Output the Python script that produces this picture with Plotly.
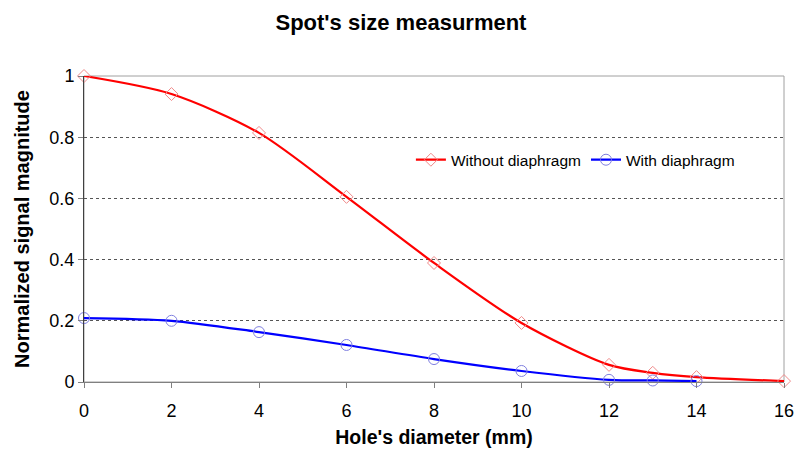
import plotly.graph_objects as go

x_without = [0, 2, 4, 6, 8, 10, 12, 13, 14, 16]
y_without = [1.0, 0.941, 0.814, 0.605, 0.389, 0.193, 0.056, 0.030, 0.016, 0.003]
x_with = [0, 2, 4, 6, 8, 10, 12, 13, 14]
y_with = [0.209, 0.200, 0.163, 0.121, 0.075, 0.036, 0.007, 0.005, 0.003]

FONT = "Liberation Sans, Arial, sans-serif"

fig = go.Figure()
fig.add_trace(go.Scatter(
    x=x_without, y=y_without, name="Without diaphragm", mode="lines+markers",
    line=dict(color="#ff0000", width=2.2, shape="spline", smoothing=0.8),
    marker=dict(symbol="diamond-open", size=10, color="#f08a8a", line=dict(width=1)),
    cliponaxis=False,
))
fig.add_trace(go.Scatter(
    x=x_with, y=y_with, name="With diaphragm", mode="lines+markers",
    line=dict(color="#0000ff", width=2.2, shape="spline", smoothing=0.8),
    marker=dict(symbol="circle-open", size=11, color="#8080e0", line=dict(width=1)),
    cliponaxis=False,
))

fig.update_layout(
    width=794, height=453,
    margin=dict(l=84, r=10, t=76, b=71, autoexpand=False),
    paper_bgcolor="white", plot_bgcolor="white",
    font=dict(family=FONT, size=18, color="#000000"),
    title=dict(text="<b>Spot's size measurment</b>", xref="container", x=0.505,
               xanchor="center", yref="container", y=0.951, yanchor="middle",
               font=dict(size=22, family=FONT)),
    legend=dict(orientation="h", x=0.467, y=0.725, xanchor="left", yanchor="middle",
                bgcolor="rgba(0,0,0,0)", font=dict(size=15.5, family=FONT),
                itemwidth=30, tracegroupgap=0),
    showlegend=True,
)
fig.update_xaxes(
    range=[0, 16], tickvals=list(range(0, 17, 2)), ticks="outside", ticklen=5,
    tickcolor="#808080", showgrid=False, zeroline=False, automargin=False,
    showline=True, linecolor="#808080", linewidth=1, mirror=False,
    ticklabelstandoff=7, ticklabeloverflow="allow",
    title=dict(text="<b>Hole's diameter (mm)</b>", font=dict(size=19.5), standoff=10),
    tickfont=dict(size=18),
)
fig.update_yaxes(
    range=[0, 1], tickvals=[0, 0.2, 0.4, 0.6, 0.8, 1],
    ticktext=["0", "0.2", "0.4", "0.6", "0.8", "1"],
    ticks="outside", ticklen=5, tickcolor="#808080", automargin=False,
    showgrid=True, gridcolor="#555555", griddash="dot", gridwidth=1,
    zeroline=False, showline=True, linecolor="#404040", linewidth=1,
    ticklabeloverflow="allow",
    title=dict(text="<b>Normalized signal magnitude</b>", font=dict(size=20), standoff=14),
    tickfont=dict(size=18),
)
# border on top and right
fig.add_shape(type="rect", xref="paper", yref="paper", x0=0, y0=0, x1=1, y1=1,
              line=dict(color="#a0a0a0", width=1), layer="below")

fig.write_html(
    "out.html",
    config={"displayModeBar": False},
    post_script="document.body.style.margin='0';document.body.style.overflow='hidden';"
                "document.documentElement.style.overflow='hidden';",
)
